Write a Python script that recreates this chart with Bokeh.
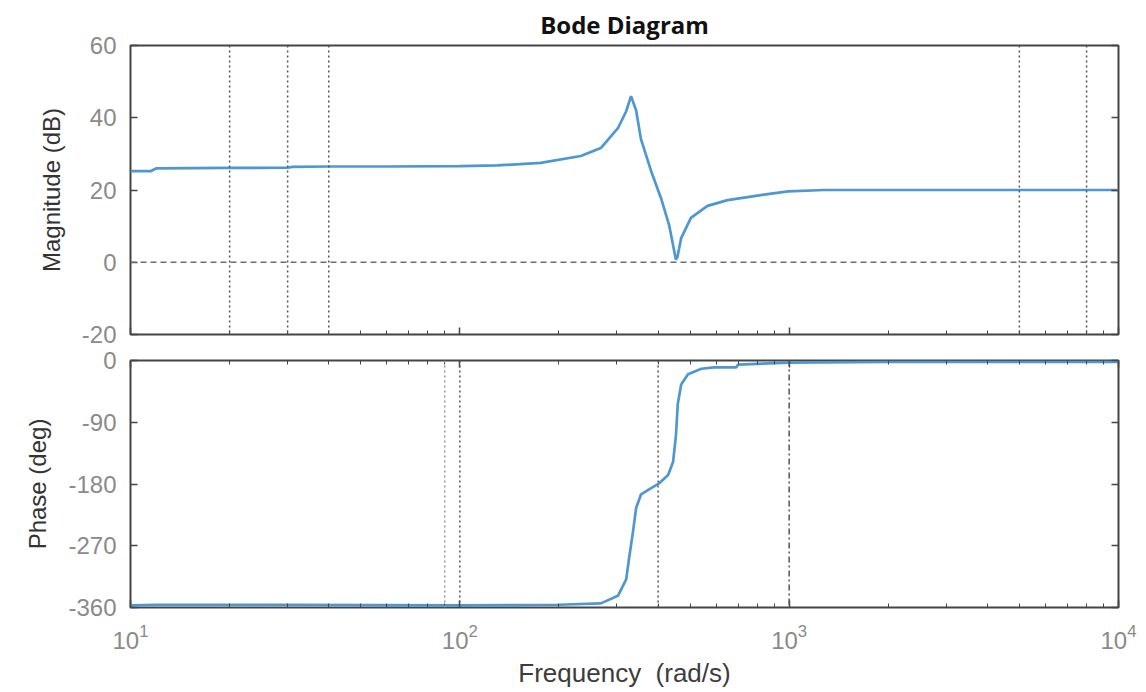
from bokeh.plotting import figure
from bokeh.models import LinearAxis, LogAxis, Span, FixedTicker, LogTicker, Range1d
from bokeh.layouts import column
from bokeh.embed import file_html
from bokeh.resources import INLINE

# ---- data ----
mag_freq = [10, 11.5, 12, 20, 30, 31, 40, 60, 100, 130, 176, 233, 268, 302, 320, 331,
            343, 355, 381, 408, 432, 453, 458, 470, 503, 565, 650, 820, 993, 1276,
            2000, 5000, 10000]
mag_db = [25.2, 25.2, 26.0, 26.1, 26.2, 26.4, 26.5, 26.5, 26.6, 26.8, 27.5, 29.4,
          31.6, 37.1, 41.8, 46.0, 42.0, 34.0, 25.2, 17.8, 10.3, 0.7, 1.5, 6.7, 12.3,
          15.6, 17.2, 18.6, 19.6, 20.0, 20.0, 20.0, 20.0]

phase_freq = [10, 12, 30, 100, 200, 268, 302, 320, 327, 335, 343, 355, 381, 403, 429,
              444, 453, 459, 470, 493, 541, 592, 690, 700, 1000, 2000, 10000]
phase_deg = [-357, -356, -356, -357, -356, -354, -343, -319, -286, -252, -215, -195,
             -186, -179, -167, -148, -110, -63, -35, -20, -12, -10, -10, -6, -3,
             -2, -2]

mag_grid_freqs = [20, 30, 40, 5000, 8000]
phase_grid_dotted = [90, 100, 400]
phase_grid_dashdot = [1000]
mag_zero_line = [0]

mag_ticks = [-20, 0, 20, 40, 60]
mag_tick_labels = {-20: "-20", 0: "0", 20: "20", 40: "40", 60: "60"}
phase_ticks = [-360, -270, -180, -90, 0]
phase_tick_labels = {-360: "-360", -270: "-270", -180: "-180", -90: "-90", 0: "0"}

# ---- styling ----
LINE = "#4f97d1"
FRAME = "#454545"
TICKLBL = "#8a8a8a"
FONT = "Liberation Sans"
W = 1140


def style_common(p):
    p.outline_line_color = FRAME
    p.outline_line_width = 2
    p.xgrid.visible = False
    p.ygrid.visible = False
    p.background_fill_color = "white"
    p.border_fill_color = "white"


def inner_axis(ax, show_labels, y=False):
    ax.axis_line_color = None
    ax.major_tick_in = 7
    ax.major_tick_out = 0
    ax.minor_tick_in = 4
    ax.minor_tick_out = 0
    ax.major_tick_line_color = FRAME
    ax.minor_tick_line_color = None if y else FRAME
    ax.major_tick_line_width = 1.5
    if not show_labels:
        ax.major_label_text_font_size = "2px"
        ax.major_label_text_alpha = 0
        ax.major_label_standoff = 0
    else:
        ax.major_label_text_font = FONT
        ax.major_label_text_font_size = "24px"
        ax.major_label_text_color = TICKLBL


def xticker():
    return LogTicker(desired_num_ticks=4, num_minor_ticks=10)


# ---------- magnitude ----------
p1 = figure(width=W, height=347, x_axis_type="log",
            x_range=Range1d(10, 10000), y_range=Range1d(-20, 60),
            output_backend="svg", toolbar_location=None,
            min_border_left=130, min_border_right=22, min_border_top=38,
            min_border_bottom=13)
style_common(p1)
p1.title.text = "Bode Diagram"
p1.title.align = "center"
p1.title.text_font = "Open Sans"
p1.title.text_font_size = "24px"
p1.title.text_font_style = "bold"
p1.title.text_color = "#111111"
p1.xaxis.ticker = xticker()
inner_axis(p1.xaxis[0], False)
p1.yaxis.ticker = FixedTicker(ticks=mag_ticks)
p1.yaxis.major_label_overrides = mag_tick_labels
inner_axis(p1.yaxis[0], True, y=True)
p1.yaxis.major_label_standoff = 14
p1.yaxis.axis_label = "Magnitude (dB)"
p1.yaxis.axis_label_text_font = FONT
p1.yaxis.axis_label_text_font_size = "24px"
p1.yaxis.axis_label_text_font_style = "normal"
p1.yaxis.axis_label_text_color = "#333333"
p1.yaxis.axis_label_standoff = 14

ra1 = LinearAxis(ticker=FixedTicker(ticks=mag_ticks))
inner_axis(ra1, False, y=True)
p1.add_layout(ra1, "right")

for f in mag_grid_freqs:
    p1.add_layout(Span(location=f, dimension="height", line_color="#555555",
                       line_width=1.5, line_dash="2 3"))
for z in mag_zero_line:
    p1.add_layout(Span(location=z, dimension="width", line_color="#6e6e6e",
                       line_width=1.5, line_dash="6 4"))

p1.line(mag_freq, mag_db, line_color=LINE, line_width=2.7)

# ---------- phase ----------
p2 = figure(width=W, height=343, x_axis_type="log",
            x_range=p1.x_range, y_range=Range1d(-360, 0),
            output_backend="svg", toolbar_location=None,
            min_border_left=130, min_border_right=22, min_border_top=13,
            min_border_bottom=10)
style_common(p2)
p2.xaxis.ticker = xticker()
inner_axis(p2.xaxis[0], True)
p2.xaxis.major_label_standoff = 16
p2.xaxis.axis_label = "Frequency\u00a0 (rad/s)"
p2.xaxis.axis_label_text_font = FONT
p2.xaxis.axis_label_text_font_size = "26px"
p2.xaxis.axis_label_text_font_style = "normal"
p2.xaxis.axis_label_text_color = "#3c3c3c"
p2.xaxis.axis_label_standoff = 6

p2.yaxis.ticker = FixedTicker(ticks=phase_ticks)
p2.yaxis.major_label_overrides = phase_tick_labels
inner_axis(p2.yaxis[0], True, y=True)
p2.yaxis.major_label_standoff = 14
p2.yaxis.axis_label = "Phase (deg)"
p2.yaxis.axis_label_text_font = FONT
p2.yaxis.axis_label_text_font_size = "24px"
p2.yaxis.axis_label_text_font_style = "normal"
p2.yaxis.axis_label_text_color = "#333333"
p2.yaxis.axis_label_standoff = 14

ra2 = LinearAxis(ticker=FixedTicker(ticks=phase_ticks))
inner_axis(ra2, False, y=True)
p2.add_layout(ra2, "right")
ta2 = LogAxis(ticker=xticker())
inner_axis(ta2, False)
p2.add_layout(ta2, "above")

for f in phase_grid_dotted:
    p2.add_layout(Span(location=f, dimension="height",
                       line_color="#9a9a9a" if f == 90 else "#555555",
                       line_width=1.5, line_dash="2 3"))
for f in phase_grid_dashdot:
    p2.add_layout(Span(location=f, dimension="height", line_color="#555555",
                       line_width=1.5, line_dash="6 3 2 3"))

p2.line(phase_freq, phase_deg, line_color=LINE, line_width=2.7)

layout = column(p1, p2, spacing=0)
open("out.html", "w").write(file_html(layout, INLINE))
